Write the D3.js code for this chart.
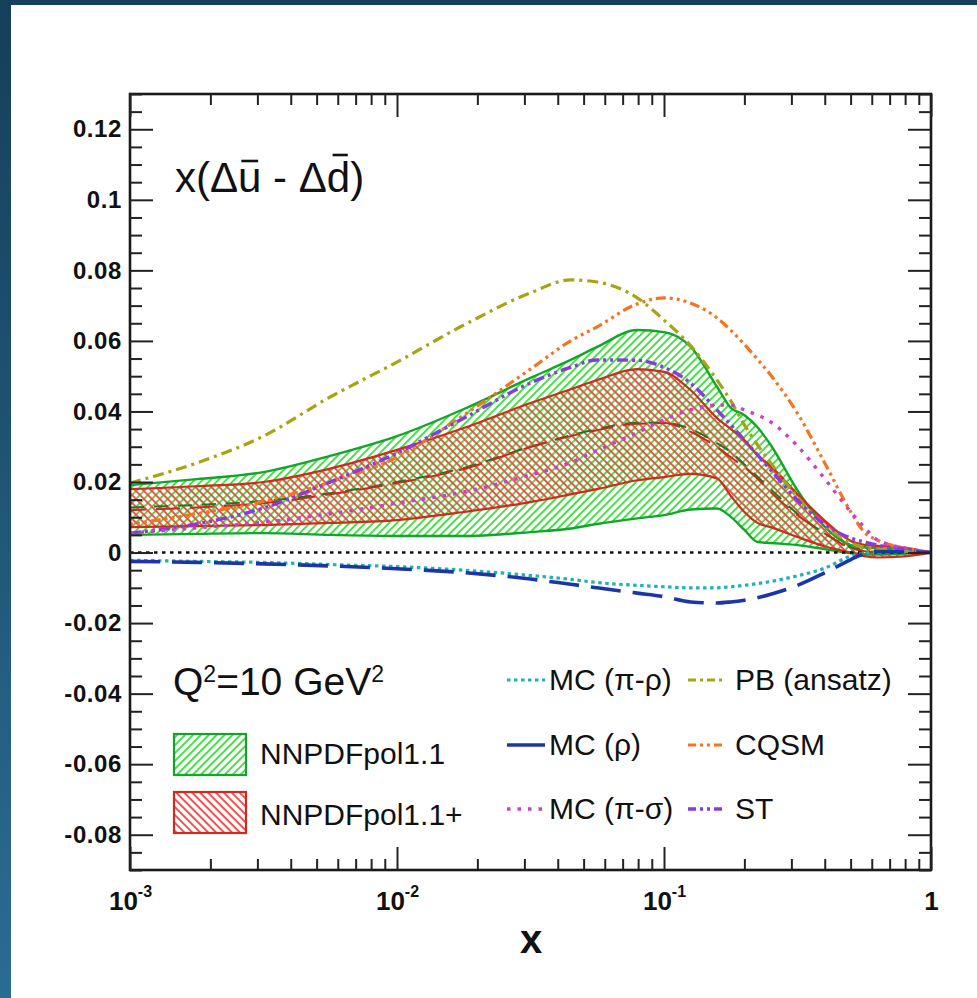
<!DOCTYPE html>
<html>
<head>
<meta charset="utf-8">
<script src="https://cdn.jsdelivr.net/npm/d3@7"></script>
<style>
  body { margin: 0; background: #fff; }
  svg { display: block; }
  text { font-family: "Liberation Sans", Arial, Helvetica, sans-serif; fill: #111; }
</style>
</head>
<body>
<svg id="chart" width="977" height="998"></svg>
<script>
// x grid shared by every curve (momentum fraction x)
const xGrid = [0.001, 0.00178, 0.00316, 0.00562, 0.01, 0.0178, 0.0316, 0.0447, 0.0562,
  0.0794, 0.1, 0.126, 0.158, 0.178, 0.2, 0.224, 0.251, 0.316, 0.398, 0.501, 0.562, 0.631, 0.794, 1];

// NNPDFpol1.1 uncertainty band
const nnpdfUpper = [0.0191, 0.0208, 0.0228, 0.0274, 0.0330, 0.0407, 0.0495, 0.0546, 0.0583,
  0.0631, 0.0625, 0.0583, 0.0470, 0.0410, 0.0390, 0.0355, 0.0305, 0.0177, 0.0075, 0.0021, 0.0015, 0.0012, 0.0008, 0];
const nnpdfLower = [0.0050, 0.0053, 0.0055, 0.0050, 0.0047, 0.0047, 0.0058, 0.0068, 0.0081,
  0.0097, 0.0106, 0.0122, 0.0125, 0.0101, 0.0064, 0.0030, 0.0027, 0.0021, 0.0010, -0.0002, -0.0005, -0.0006, -0.0003, 0];
const nnpdfCentral = [0.0128, 0.0135, 0.0146, 0.0168, 0.0200, 0.0240, 0.0300, 0.0332, 0.0350,
  0.0368, 0.0368, 0.0350, 0.0310, 0.0285, 0.0250, 0.0215, 0.0180, 0.0110, 0.0055, 0.0015, 0.0006, 0.0002, 0.0001, 0];

// NNPDFpol1.1+ uncertainty band
const nnpdfPlusUpper = [0.0180, 0.0188, 0.0200, 0.0238, 0.0291, 0.0353, 0.0424, 0.0463, 0.0489,
  0.0520, 0.0512, 0.0460, 0.0381, 0.0350, 0.0319, 0.0276, 0.0245, 0.0166, 0.0092, 0.0033, 0.0022, 0.0019, 0.0014, 0];
const nnpdfPlusLower = [0.0072, 0.0075, 0.0078, 0.0084, 0.0092, 0.0115, 0.0143, 0.0165, 0.0180,
  0.0205, 0.0214, 0.0223, 0.0210, 0.0160, 0.0115, 0.0084, 0.0072, 0.0044, 0.0018, 0.0000, -0.0010, -0.0014, -0.0011, 0];
const nnpdfPlusCentral = [0.0120, 0.0128, 0.0140, 0.0165, 0.0197, 0.0237, 0.0299, 0.0330, 0.0347,
  0.0365, 0.0367, 0.0342, 0.0299, 0.0270, 0.0242, 0.0210, 0.0172, 0.0106, 0.0055, 0.0013, 0.0004, 0.0001, 0.0001, 0];

// model predictions
const mcPiRho = [-0.0022, -0.0025, -0.0028, -0.0034, -0.0040, -0.0050, -0.0065, -0.0076, -0.0085,
  -0.0093, -0.0097, -0.0100, -0.0100, -0.0097, -0.0093, -0.0088, -0.0082, -0.0066, -0.0045, -0.0010, -0.0002, 0.0003, 0.0002, 0];
const mcRho = [-0.0025, -0.0028, -0.0032, -0.0038, -0.0046, -0.0057, -0.0075, -0.0090, -0.0100,
  -0.0115, -0.0125, -0.0140, -0.0143, -0.0140, -0.0135, -0.0128, -0.0118, -0.0093, -0.0058, -0.0020, -0.0003, 0.0003, 0.0002, 0];
const mcPiSigma = [0.0055, 0.0070, 0.0086, 0.0110, 0.0140, 0.0172, 0.0220, 0.0255, 0.0290,
  0.0340, 0.0376, 0.0405, 0.0418, 0.0418, 0.0404, 0.0390, 0.0370, 0.0302, 0.0211, 0.0115, 0.0072, 0.0035, 0.0013, 0];
const pbAnsatz = [0.0197, 0.0254, 0.0330, 0.0441, 0.0540, 0.0645, 0.0736, 0.0773, 0.0767,
  0.0722, 0.0659, 0.0586, 0.0489, 0.0430, 0.0362, 0.0305, 0.0254, 0.0157, 0.0078, 0.0027, 0.0015, 0.0010, 0.0004, 0];
const cqsm = [0.0080, 0.0110, 0.0145, 0.0200, 0.0270, 0.0390, 0.0520, 0.0600, 0.0640,
  0.0705, 0.0722, 0.0707, 0.0665, 0.0630, 0.0590, 0.0548, 0.0503, 0.0395, 0.0257, 0.0115, 0.0058, 0.0035, 0.0013, 0];
const stModel = [0.0055, 0.0081, 0.0126, 0.0200, 0.0282, 0.0381, 0.0481, 0.0525, 0.0546,
  0.0545, 0.0525, 0.0480, 0.0404, 0.0362, 0.0319, 0.0277, 0.0234, 0.0149, 0.0081, 0.0041, 0.0030, 0.0021, 0.0010, 0];

// axis ticks and labels
const xMajorTicks = [0.001, 0.01, 0.1, 1];
const xTickBase = ["10", "10", "10", "1"];
const xTickExp = ["-3", "-2", "-1", ""];
const yMajorTicks = [-0.08, -0.06, -0.04, -0.02, 0, 0.02, 0.04, 0.06, 0.08, 0.1, 0.12];
const yTickLabels = ["-0.08", "-0.06", "-0.04", "-0.02", "0", "0.02", "0.04", "0.06", "0.08", "0.1", "0.12"];

const svg = d3.select("#chart");
const W = 977, H = 998;
const L = 130, R = 931, T = 94, B = 870;

// page backdrop
const defs = svg.append("defs");
const bg = defs.append("linearGradient").attr("id", "bgGrad")
  .attr("x1", 0).attr("y1", 0).attr("x2", 0).attr("y2", 1);
bg.append("stop").attr("offset", "0%").attr("stop-color", "#153f5a");
bg.append("stop").attr("offset", "100%").attr("stop-color", "#2b6c93");
svg.append("rect").attr("width", W).attr("height", H).attr("fill", "url(#bgGrad)");
svg.append("rect").attr("x", 11).attr("y", 5).attr("width", W - 11).attr("height", H - 5).attr("fill", "#fff");

// hatch patterns
function hatch(id, color, angle) {
  const p = defs.append("pattern").attr("id", id)
    .attr("patternUnits", "userSpaceOnUse").attr("width", 5.6).attr("height", 5.6)
    .attr("patternTransform", `rotate(${angle})`);
  p.append("line").attr("x1", 1).attr("y1", 0).attr("x2", 1).attr("y2", 5.6)
    .attr("stroke", color).attr("stroke-width", 1.9);
}
hatch("hatchGreen", "#3ee03e", 45);
hatch("hatchRed", "#f24a4a", -45);

const x = d3.scaleLog().domain([1e-3, 1]).range([L, R]);
const y = d3.scaleLinear().domain([-0.09, 0.13]).range([B, T]);

defs.append("clipPath").attr("id", "plotClip").append("rect")
  .attr("x", L).attr("y", T).attr("width", R - L).attr("height", B - T);

const plot = svg.append("g").attr("clip-path", "url(#plotClip)");

const curve = d3.curveMonotoneX;
const area = (lo, hi) => d3.area().curve(curve)
  .x((d, i) => x(xGrid[i])).y0((d, i) => y(lo[i])).y1((d, i) => y(hi[i]))(xGrid);
const line = vals => d3.line().curve(curve)
  .x((d, i) => x(xGrid[i])).y((d, i) => y(vals[i]))(xGrid);

// NNPDFpol1.1 band
plot.append("path").attr("d", area(nnpdfLower, nnpdfUpper)).attr("fill", "url(#hatchGreen)");
// NNPDFpol1.1+ band
plot.append("path").attr("d", area(nnpdfPlusLower, nnpdfPlusUpper)).attr("fill", "url(#hatchRed)");

[nnpdfUpper, nnpdfLower].forEach(v => plot.append("path").attr("d", line(v))
  .attr("fill", "none").attr("stroke", "#13a52a").attr("stroke-width", 2.4));
plot.append("path").attr("d", line(nnpdfCentral)).attr("fill", "none")
  .attr("stroke", "#197a25").attr("stroke-width", 2).attr("stroke-dasharray", "14,10");
[nnpdfPlusUpper, nnpdfPlusLower].forEach(v => plot.append("path").attr("d", line(v))
  .attr("fill", "none").attr("stroke", "#d02a1e").attr("stroke-width", 2.2));
plot.append("path").attr("d", line(nnpdfPlusCentral)).attr("fill", "none")
  .attr("stroke", "#c82a1e").attr("stroke-width", 2).attr("stroke-dasharray", "24,10")
  .attr("stroke-dashoffset", 8);

// zero reference
plot.append("line").attr("x1", L).attr("x2", R).attr("y1", y(0)).attr("y2", y(0))
  .attr("stroke", "#111").attr("stroke-width", 2.4).attr("stroke-dasharray", "3.5,4.5");

// model curves
const models = [
  { name: "MC (π-ρ)", vals: mcPiRho, color: "#1fb3b8", dash: "3.5,3.5", width: 3.2, legendDash: "3.5,3.5" },
  { name: "MC (ρ)", vals: mcRho, color: "#1c36a8", dash: "30,12", width: 3.6, legendDash: null },
  { name: "MC (π-σ)", vals: mcPiSigma, color: "#cc3fcc", dash: "3.5,7", width: 3.4, legendDash: "3.5,7" },
  { name: "PB (ansatz)", vals: pbAnsatz, color: "#a5a514", dash: "11,5,3,5", width: 3.2, legendDash: "8,4,3,4" },
  { name: "CQSM", vals: cqsm, color: "#f77320", dash: "3,4,3,4,3,4,10,4", width: 3.2, legendDash: "8,4,3,4,3,4" },
  { name: "ST", vals: stModel, color: "#8a3ae0", dash: "11,4,3,4,3,4", width: 3.4, legendDash: "8,4,3,4,3,4" }
];
const drawOrder = [4, 3, 5, 2, 0, 1];
drawOrder.forEach(k => {
  const m = models[k];
  plot.append("path").attr("d", line(m.vals)).attr("fill", "none")
    .attr("stroke", m.color).attr("stroke-width", m.width)
    .attr("stroke-dasharray", m.dash);
});

// frame
svg.append("rect").attr("x", L).attr("y", T).attr("width", R - L).attr("height", B - T)
  .attr("fill", "none").attr("stroke", "#1a1a1a").attr("stroke-width", 2.6);

// minor tick positions
const xMinor = [];
[0.001, 0.01, 0.1].forEach(d => { for (let k = 2; k <= 9; k++) xMinor.push(d * k); });
const yMinor = d3.range(-90, 131, 5).map(v => v / 1000).filter(v => !yMajorTicks.some(t => Math.abs(t - v) < 1e-9));

function styleAxis(g) {
  g.select(".domain").remove();
  g.selectAll(".tick line").attr("stroke", "#222").attr("stroke-width", 2);
}

// left axis with labels
const yLeft = svg.append("g").attr("transform", `translate(${L},0)`)
  .call(d3.axisLeft(y).tickValues(yMajorTicks).tickSizeInner(-23).tickSizeOuter(0).tickPadding(8)
    .tickFormat((d, i) => yTickLabels[i]))
  .call(styleAxis);
yLeft.selectAll(".tick text").attr("font-size", 24).attr("font-weight", "bold")
  .attr("fill", "#111").attr("letter-spacing", 0.6)
  .attr("font-family", '"Liberation Sans", Arial, Helvetica, sans-serif');
svg.append("g").attr("transform", `translate(${L},0)`)
  .call(d3.axisLeft(y).tickValues(yMinor).tickSizeInner(-12).tickSizeOuter(0).tickFormat(""))
  .call(styleAxis);
// right axis
svg.append("g").attr("transform", `translate(${R},0)`)
  .call(d3.axisRight(y).tickValues(yMajorTicks).tickSizeInner(-23).tickSizeOuter(0).tickFormat(""))
  .call(styleAxis);
svg.append("g").attr("transform", `translate(${R},0)`)
  .call(d3.axisRight(y).tickValues(yMinor).tickSizeInner(-12).tickSizeOuter(0).tickFormat(""))
  .call(styleAxis);

// bottom axis with labels
const xBottom = svg.append("g").attr("transform", `translate(0,${B})`)
  .call(d3.axisBottom(x).tickValues(xMajorTicks).tickSizeInner(-23).tickSizeOuter(0).tickFormat(""))
  .call(styleAxis);
xBottom.selectAll(".tick text").remove();
xBottom.selectAll(".tick").each(function (d, i) {
  const t = d3.select(this).append("text")
    .attr("y", 40).attr("text-anchor", "middle")
    .attr("font-weight", "bold").attr("font-size", 26).attr("fill", "#111");
  t.append("tspan").text(xTickBase[i]);
  if (xTickExp[i]) {
    t.append("tspan").attr("font-size", 16).attr("dy", -13).text(xTickExp[i]);
  }
});
svg.append("g").attr("transform", `translate(0,${B})`)
  .call(d3.axisBottom(x).tickValues(xMinor).tickSizeInner(-11).tickSizeOuter(0).tickFormat(""))
  .call(styleAxis);
// top axis
svg.append("g").attr("transform", `translate(0,${T})`)
  .call(d3.axisTop(x).tickValues(xMajorTicks).tickSizeInner(-23).tickSizeOuter(0).tickFormat(""))
  .call(styleAxis);
svg.append("g").attr("transform", `translate(0,${T})`)
  .call(d3.axisTop(x).tickValues(xMinor).tickSizeInner(-11).tickSizeOuter(0).tickFormat(""))
  .call(styleAxis);

// axis title
svg.append("text").attr("x", 531).attr("y", 953).attr("text-anchor", "middle")
  .attr("font-size", 40).attr("font-weight", "bold").text("x");

// quantity label with bars over u and d
const title = svg.append("text").attr("x", 175).attr("y", 192).attr("font-size", 42)
  .text("x(Δu - Δd)");
const tn = title.node();
const bu = tn.getExtentOfChar(3), bd = tn.getExtentOfChar(8);
svg.append("line").attr("x1", bu.x + bu.width * 0.14).attr("x2", bu.x + bu.width * 0.86)
  .attr("y1", 161).attr("y2", 161).attr("stroke", "#111").attr("stroke-width", 2.6);
svg.append("line").attr("x1", bd.x + bd.width * 0.25).attr("x2", bd.x + bd.width * 0.9)
  .attr("y1", 155).attr("y2", 155).attr("stroke", "#111").attr("stroke-width", 2.6);

// scale label
const q = svg.append("text").attr("x", 173).attr("y", 695).attr("font-size", 39);
q.append("tspan").text("Q");
q.append("tspan").attr("font-size", 23).attr("dy", -13).text("2");
q.append("tspan").attr("dy", 13).text("=10 GeV");
q.append("tspan").attr("font-size", 23).attr("dy", -13).text("2");

// band legend
const bandLegend = [
  { name: "NNPDFpol1.1", fill: "url(#hatchGreen)", stroke: "#13a52a", top: 734, base: 764 },
  { name: "NNPDFpol1.1+", fill: "url(#hatchRed)", stroke: "#d02a1e", top: 792, base: 825 }
];
bandLegend.forEach(b => {
  svg.append("rect").attr("x", 174).attr("y", b.top).attr("width", 72).attr("height", 41)
    .attr("fill", b.fill).attr("stroke", b.stroke).attr("stroke-width", 2.2);
  svg.append("text").attr("x", 260).attr("y", b.base).attr("font-size", 30).text(b.name);
});

// model legend, two columns of three
const legendCols = [{ lx: 507, tx: 549 }, { lx: 688, tx: 735 }];
const legendRows = [680, 745, 809];
models.forEach((m, i) => {
  const c = legendCols[Math.floor(i / 3)], r = legendRows[i % 3];
  svg.append("line").attr("x1", c.lx).attr("x2", c.lx + 38).attr("y1", r).attr("y2", r)
    .attr("stroke", m.color).attr("stroke-width", m.width)
    .attr("stroke-dasharray", m.legendDash);
  svg.append("text").attr("x", c.tx).attr("y", r + 10).attr("font-size", 30).text(m.name);
});
</script>
</body>
</html>
